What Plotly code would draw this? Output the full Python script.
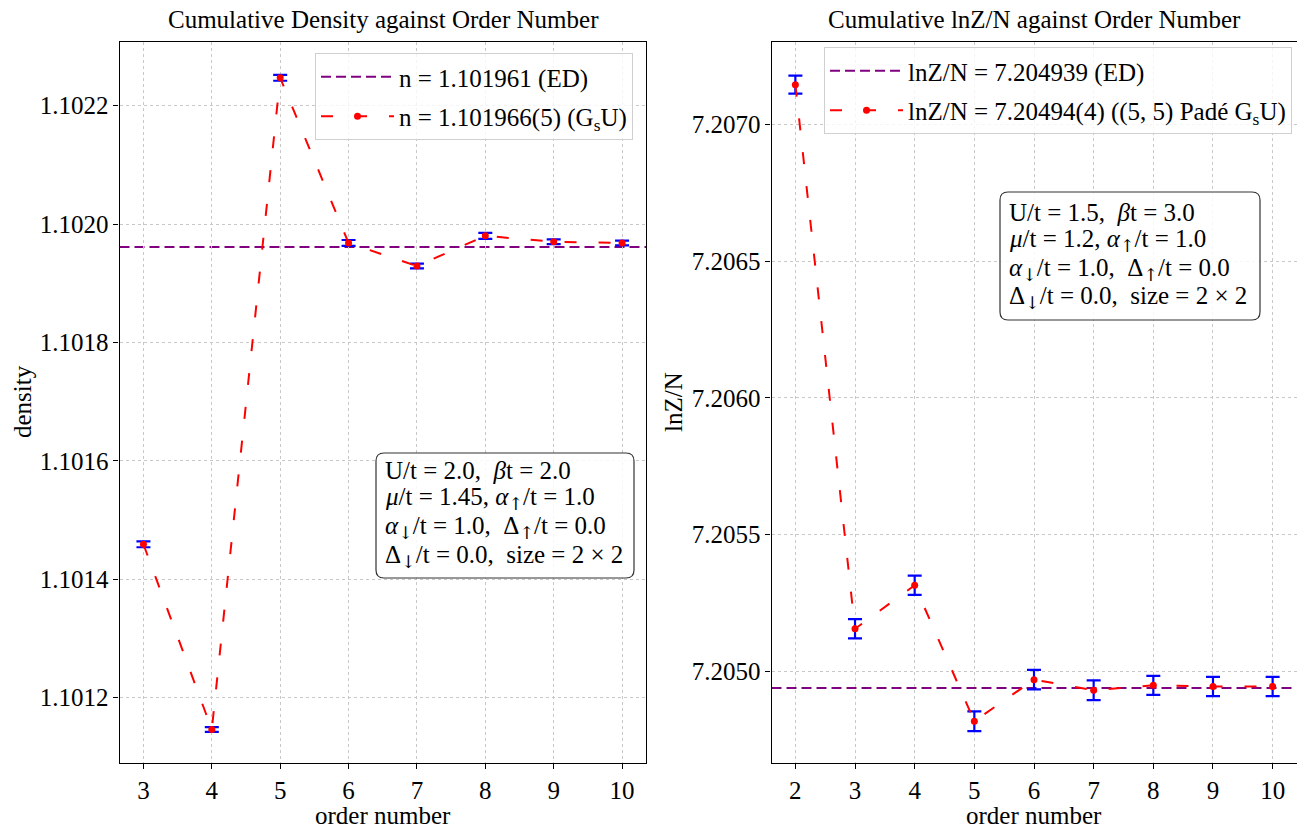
import plotly.graph_objects as go

# ---- data: left panel (density) ----
dens_order = [3, 4, 5, 6, 7, 8, 9, 10]
dens_value = [1.101459, 1.101146, 1.102247, 1.101968, 1.101929, 1.101980, 1.101970, 1.101968]
dens_err = [0.000005, 0.000004, 0.000005, 0.000005, 0.000004, 0.000005, 0.000004, 0.000004]
dens_ed = 1.101961

# ---- data: right panel (lnZ/N) ----
lnz_order = [2, 3, 4, 5, 6, 7, 8, 9, 10]
lnz_value = [7.207146, 7.205156, 7.205315, 7.204818, 7.204970, 7.204931, 7.204949, 7.204945, 7.204945]
lnz_err = [0.000033, 0.000035, 0.000035, 0.000036, 0.000036, 0.000036, 0.000035, 0.000035, 0.000035]
lnz_ed = 7.204939

UP = '<sub><span style="font-family:DejaVu Serif">\u2191</span></sub>'
DN = '<sub><span style="font-family:DejaVu Serif">\u2193</span></sub>'

box_left_lines = [
    "U/t = 2.0,\u00a0 <i>β</i>t = 2.0",
    f"<i>μ</i>/t = 1.45, <i>α</i>{UP}/t = 1.0",
    f"<i>α</i>{DN}/t = 1.0,\u00a0 Δ{UP}/t = 0.0",
    f"Δ{DN}/t = 0.0,\u00a0 size = 2 × 2",
]
box_right_lines = [
    "U/t = 1.5,\u00a0 <i>β</i>t = 3.0",
    f"<i>μ</i>/t = 1.2, <i>α</i>{UP}/t = 1.0",
    f"<i>α</i>{DN}/t = 1.0,\u00a0 Δ{UP}/t = 0.0",
    f"Δ{DN}/t = 0.0,\u00a0 size = 2 × 2",
]

W, H = 1297, 830
FONT = "Liberation Serif"
FS = 25

def px(x):
    return x / W

def py(y):
    return 1 - y / H

fig = go.Figure()

fig.add_trace(go.Scatter(x=[None], y=[None], mode="lines",
                         line=dict(color="purple", width=2, dash="10px,5px"),
                         name="n = 1.101961 (ED)", legend="legend", legendgroup="a",
                         xaxis="x", yaxis="y"))
fig.add_trace(go.Scatter(x=dens_order, y=dens_value, mode="lines+markers",
                         line=dict(color="red", width=2, dash="12px,22px"),
                         marker=dict(color="red", size=7),
                         error_y=dict(type="data", array=dens_err, color="blue",
                                      thickness=2.2, width=7),
                         name="n = 1.101966(5) (G<sub>s</sub>U)", legend="legend", legendgroup="b",
                         xaxis="x", yaxis="y"))

fig.add_trace(go.Scatter(x=[None], y=[None], mode="lines",
                         line=dict(color="purple", width=2, dash="10px,5px"),
                         name="lnZ/N = 7.204939 (ED)", legend="legend2", legendgroup="c",
                         xaxis="x2", yaxis="y2"))
fig.add_trace(go.Scatter(x=lnz_order, y=lnz_value, mode="lines+markers",
                         line=dict(color="red", width=2, dash="12px,22px"),
                         marker=dict(color="red", size=7),
                         error_y=dict(type="data", array=lnz_err, color="blue",
                                      thickness=2.2, width=7),
                         name="lnZ/N = 7.20494(4) ((5, 5) Padé G<sub>s</sub>U)", legend="legend2",
                         legendgroup="d", xaxis="x2", yaxis="y2"))

fig.add_shape(type="line", xref="x domain", yref="y", x0=0, x1=1, y0=dens_ed, y1=dens_ed,
              line=dict(color="purple", width=2, dash="10px,5px"), layer="below")
fig.add_shape(type="line", xref="x2 domain", yref="y2", x0=0, x1=1, y0=lnz_ed, y1=lnz_ed,
              line=dict(color="purple", width=2, dash="10px,5px"), layer="below")


def rounded_box(x0, y0, x1, y1, r=8):
    rx, ry = r / W, r / H
    X0, X1 = px(x0), px(x1)
    Y0, Y1 = py(y0), py(y1)  # Y0 top, Y1 bottom
    path = (f"M {X0+rx},{Y0} L {X1-rx},{Y0} Q {X1},{Y0} {X1},{Y0-ry} "
            f"L {X1},{Y1+ry} Q {X1},{Y1} {X1-rx},{Y1} "
            f"L {X0+rx},{Y1} Q {X0},{Y1} {X0},{Y1+ry} "
            f"L {X0},{Y0-ry} Q {X0},{Y0} {X0+rx},{Y0} Z")
    fig.add_shape(type="path", path=path, xref="paper", yref="paper",
                  line=dict(color="#333333", width=1.2), fillcolor="rgba(255,255,255,0.85)",
                  layer="above")


rounded_box(376, 453, 634, 578)
rounded_box(1000, 192, 1260, 320)

axis_common = dict(showline=True, linecolor="black", linewidth=1.2, mirror=True,
                   ticks="outside", ticklen=5, tickcolor="black",
                   showgrid=True, gridcolor="#c8c8c8", griddash="dot", gridwidth=1,
                   zeroline=False, tickfont=dict(family=FONT, size=FS, color="black"))

dom_y = [py(763.3), py(41.7)]
legend_common = dict(xanchor="right", yanchor="top",
                     bgcolor="rgba(255,255,255,0.8)", bordercolor="#d0d0d0", borderwidth=1,
                     font=dict(family=FONT, size=FS, color="black"), tracegroupgap=4,
                     itemwidth=73)
fig.update_layout(
    width=W, height=H,
    margin=dict(l=0, r=0, t=0, b=0),
    paper_bgcolor="white", plot_bgcolor="white",
    font=dict(family=FONT, size=FS, color="black"),
    xaxis=dict(domain=[px(119.5), px(646)], range=[2.65, 10.35], tickvals=dens_order,
               anchor="y", **axis_common),
    yaxis=dict(domain=dom_y, range=[1.101089, 1.102308], dtick=0.0002, tickformat=".4f",
               anchor="x", **axis_common),
    xaxis2=dict(domain=[px(771.5), px(1296.5)], range=[1.6, 10.4], tickvals=lnz_order,
                anchor="y2", **axis_common),
    yaxis2=dict(domain=dom_y, range=[7.204664, 7.207303], dtick=0.0005, tickformat=".4f",
                anchor="x2", **axis_common),
    legend=dict(x=px(633), y=py(53), **legend_common),
    legend2=dict(x=px(1292), y=py(47), **legend_common),
    showlegend=True,
)

annotations = []
for i, t in enumerate(box_left_lines):
    annotations.append(dict(text=t, x=px(383), y=py(470 + 28.7 * i), xref="paper", yref="paper",
                            xanchor="left", yanchor="middle", showarrow=False,
                            font=dict(family=FONT, size=FS)))
for i, t in enumerate(box_right_lines):
    annotations.append(dict(text=t, x=px(1007), y=py(212 + 28.5 * i), xref="paper", yref="paper",
                            xanchor="left", yanchor="middle", showarrow=False,
                            font=dict(family=FONT, size=FS)))
annotations += [
    dict(text="Cumulative Density against Order Number", x=px(383), y=py(20),
         xref="paper", yref="paper", xanchor="center", yanchor="middle", showarrow=False,
         font=dict(family=FONT, size=FS)),
    dict(text="Cumulative lnZ/N against Order Number", x=px(1034), y=py(20),
         xref="paper", yref="paper", xanchor="center", yanchor="middle", showarrow=False,
         font=dict(family=FONT, size=FS)),
    dict(text="order number", x=px(383), y=py(815), xref="paper", yref="paper",
         xanchor="center", yanchor="middle", showarrow=False, font=dict(family=FONT, size=FS)),
    dict(text="order number", x=px(1034), y=py(815), xref="paper", yref="paper",
         xanchor="center", yanchor="middle", showarrow=False, font=dict(family=FONT, size=FS)),
    dict(text="density", x=px(22), y=py(402), xref="paper", yref="paper",
         xanchor="center", yanchor="middle", showarrow=False, textangle=-90,
         font=dict(family=FONT, size=FS)),
    dict(text="lnZ/N", x=px(673), y=py(402), xref="paper", yref="paper",
         xanchor="center", yanchor="middle", showarrow=False, textangle=-90,
         font=dict(family=FONT, size=FS)),
]
fig.update_layout(annotations=annotations)

fig.write_html("out.html", config={"displayModeBar": False},
               post_script="document.body.style.margin='0';document.body.style.overflow='hidden';")
